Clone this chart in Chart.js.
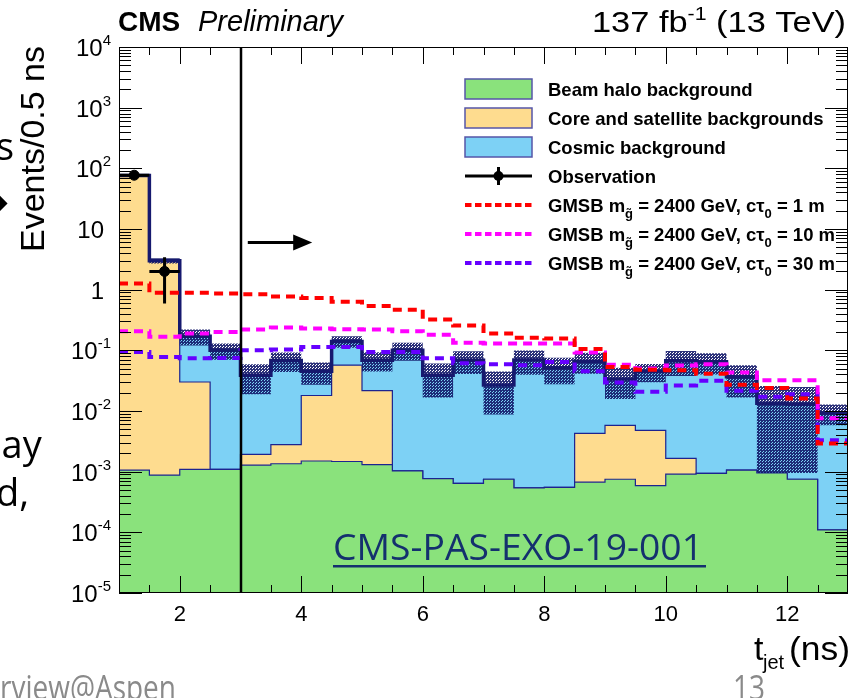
<!DOCTYPE html>
<html>
<head>
<meta charset="utf-8">
<script src="https://cdn.jsdelivr.net/npm/chart.js@4.4.1/dist/chart.umd.min.js"></script>
<style>
  html, body { margin: 0; padding: 0; background: #fff; }
  canvas { display: block; }
</style>
</head>
<body>
<canvas id="tjet" width="854" height="698"></canvas>
<script>
// ---------------- DATA ----------------
// t_jet histogram, 0.5 ns bins from 1 to 13 ns (bin edges)
const binEdges = [1, 1.5, 2, 2.5, 3, 3.5, 4, 4.5, 5, 5.5, 6, 6.5, 7, 7.5, 8, 8.5, 9, 9.5, 10, 10.5, 11, 11.5, 12, 12.5, 13];

// background components (events / 0.5 ns), stacked halo -> core/satellite -> cosmic
const beamHalo = [1.06e-3, 8.8e-4, 1.09e-3, 1.09e-3, 1.28e-3, 1.35e-3, 1.5e-3, 1.47e-3, 1.31e-3, 1.03e-3, 7.7e-4, 6.4e-4,
                  7.5e-4, 5.4e-4, 5.5e-4, 6.7e-4, 7.5e-4, 5.9e-4, 9.1e-4, 9.4e-4, 1.06e-3, 9.5e-4, 7.5e-4, 1.1e-4];
const coreSat = [76, 3.0, 0.029, 0, 6.5e-4, 1.45e-3, 0.0165, 0.0555, 0.0203, 0, 0, 0,
                 0, 0, 0, 3.6e-3, 5.05e-3, 4.2e-3, 7.5e-4, 0, 0, 0, 0, 0];
const cosmic = [0, 0, 0.14, 0.099, 0.037, 0.065, 0.027, 0.083, 0.047, 0.099, 0.038, 0.068,
                0.026, 0.069, 0.051, 0.062, 0.028, 0.040, 0.066, 0.064, 0.0356, 0.0125, 0.0122, 0.0092];
// uncertainty on the total background
const bkgErr = [4, 0.3, 0.05, 0.03, 0.02, 0.024, 0.018, 0.03, 0.024, 0.033, 0.022, 0.028,
                0.018, 0.03, 0.024, 0.025, 0.018, 0.015, 0.03, 0.025, 0.02, 0.0125, 0.012, 0.0035];

// GMSB signal, m_gluino = 2400 GeV
const gmsb1m = [1.26, 0.89, 0.89, 0.865, 0.84, 0.77, 0.73, 0.63, 0.54, 0.466, 0.323, 0.257,
                0.19, 0.161, 0.157, 0.105, 0.053, 0.048, 0.047, 0.041, 0.027, 0.024, 0.016, 0.0029];
const gmsb10m = [0.207, 0.167, 0.19, 0.2, 0.22, 0.238, 0.23, 0.223, 0.22, 0.206, 0.181, 0.133,
                 0.13, 0.13, 0.13, 0.092, 0.058, 0.05, 0.056, 0.059, 0.043, 0.032, 0.032, 0.0076];
const gmsb30m = [0.094, 0.078, 0.074, 0.075, 0.1, 0.103, 0.114, 0.114, 0.094, 0.094, 0.074, 0.061,
                 0.059, 0.057, 0.064, 0.045, 0.0296, 0.0207, 0.0264, 0.0314, 0.0215, 0.0171, 0.0188, 0.0033];

// observed data (bin centre, count, error)
const obsX = [1.25, 1.75];
const obsY = [77, 2];
const obsErr = [8.8, 1.41];

// axes
const xMin = 1, xMax = 13;
const yMin = 1e-5, yMax = 1e4;
const xTickLabels = [2, 4, 6, 8, 10, 12];
const yDecades = [-5, -4, -3, -2, -1, 0, 1, 2, 3, 4];

// selection cut
const cutAt = 3;
const arrowFrom = 3.12, arrowTo = 4.18, arrowLevel = 6;

const legendLabels = ['Beam halo background', 'Core and satellite backgrounds', 'Cosmic background', 'Observation'];
const signalLabels = ['1 m', '10 m', '30 m'];

// ---------------- STYLE ----------------
const HELV = '"Liberation Sans", Arial, sans-serif';
const C_HALO = '#8ae27c';
const C_CORE = '#fedc8f';
const C_COSMIC = '#7dd1f5';
const C_TOTAL = '#16196e';
const C_EDGE = '#1c2390';
const C_SIG = ['#ff0000', '#ff00ff', '#6600ff'];

const canvas = document.getElementById('tjet');
const ctx0 = canvas.getContext('2d');

// dotted hatch for the background uncertainty
function hatchPattern() {
  const pc = document.createElement('canvas');
  pc.width = 3; pc.height = 3;
  const p = pc.getContext('2d');
  p.fillStyle = 'rgba(16, 22, 104, 0.88)';
  p.fillRect(0, 0, 3, 3);
  p.clearRect(1, 1, 1, 1);
  p.clearRect(0, 2, 1, 1);
  return ctx0.createPattern(pc, 'repeat');
}

// step histogram: one point per left edge, last value repeated at the right edge
function histPoints(vals) {
  return binEdges.map((x, i) => ({ x, y: vals[Math.min(i, vals.length - 1)] }));
}

const cumHalo = beamHalo.slice();
const cumCore = beamHalo.map((v, i) => v + coreSat[i]);
const total = cumCore.map((v, i) => v + cosmic[i]);
const bandHi = total.map((v, i) => v + bkgErr[i]);
const bandLo = total.map((v, i) => Math.max(v - bkgErr[i], 2e-5));

function stepLine(vals, extra) {
  return Object.assign({
    data: histPoints(vals),
    stepped: 'before',
    pointRadius: 0,
    borderWidth: 0,
    fill: false
  }, extra);
}

// ---------------- DRAW HELPERS ----------------
function drawParts(ctx, parts, x, y) {
  let cx = x;
  for (const p of parts) {
    ctx.font = p.font;
    ctx.fillText(p.text, cx, y + (p.dy || 0));
    cx += ctx.measureText(p.text).width + (p.gap || 0);
  }
  return cx;
}
function partsWidth(ctx, parts) {
  let w = 0;
  for (const p of parts) { ctx.font = p.font; w += ctx.measureText(p.text).width + (p.gap || 0); }
  return w;
}
function fitText(ctx, text, x, y, width) {
  const w = ctx.measureText(text).width;
  ctx.save();
  ctx.translate(x, y);
  ctx.scale(width / w, 1);
  ctx.fillText(text, 0, 0);
  ctx.restore();
}

// ---------------- PLUGIN: ROOT-style frame, ticks, labels, legend ----------------
const rootDecor = {
  id: 'rootDecor',
  afterDatasetsDraw(chart) {
    const { ctx, chartArea: a, scales: { x, y } } = chart;
    ctx.save();

    // observation error bars
    ctx.strokeStyle = '#000';
    ctx.lineWidth = 3;
    obsX.forEach((ox, i) => {
      const px = x.getPixelForValue(ox);
      const py = y.getPixelForValue(obsY[i]);
      ctx.beginPath();
      ctx.moveTo(x.getPixelForValue(ox - 0.25), py);
      ctx.lineTo(x.getPixelForValue(ox + 0.25), py);
      ctx.moveTo(px, y.getPixelForValue(obsY[i] + obsErr[i]));
      ctx.lineTo(px, y.getPixelForValue(obsY[i] - obsErr[i]));
      ctx.stroke();
    });

    // cut line and arrow
    const cx = Math.round(x.getPixelForValue(cutAt));
    ctx.lineWidth = 2.5;
    ctx.beginPath();
    ctx.moveTo(cx, a.top);
    ctx.lineTo(cx, a.bottom);
    ctx.stroke();

    const ay = y.getPixelForValue(arrowLevel);
    const ax0 = x.getPixelForValue(arrowFrom), ax1 = x.getPixelForValue(arrowTo);
    ctx.lineWidth = 3;
    ctx.beginPath();
    ctx.moveTo(ax0, ay);
    ctx.lineTo(ax1 - 14, ay);
    ctx.stroke();
    ctx.fillStyle = '#000';
    ctx.beginPath();
    ctx.moveTo(ax1, ay);
    ctx.lineTo(ax1 - 19, ay - 8);
    ctx.lineTo(ax1 - 19, ay + 8);
    ctx.closePath();
    ctx.fill();

    // frame
    ctx.lineWidth = 1;
    ctx.strokeStyle = '#000';
    ctx.strokeRect(a.left + 0.5, a.top + 0.5, a.right - a.left - 1, a.bottom - a.top - 1);

    // x ticks (every 0.5 ns, long at labelled values)
    ctx.beginPath();
    for (let t = xMin + 0.5; t < xMax; t += 0.5) {
      const px = Math.round(x.getPixelForValue(t)) + 0.5;
      const len = xTickLabels.includes(t) ? 17 : 8;
      ctx.moveTo(px, a.bottom); ctx.lineTo(px, a.bottom - len);
      ctx.moveTo(px, a.top); ctx.lineTo(px, a.top + len);
    }
    // y ticks (decades long, 2..9 short)
    yDecades.forEach(e => {
      for (let m = 1; m <= 9; m++) {
        const v = m * Math.pow(10, e);
        if (v > yMax) break;
        const py = Math.round(y.getPixelForValue(v)) + 0.5;
        const len = m === 1 ? 23 : 12;
        ctx.moveTo(a.left, py); ctx.lineTo(a.left + len, py);
        ctx.moveTo(a.right, py); ctx.lineTo(a.right - len, py);
      }
    });
    ctx.stroke();

    // x tick labels
    ctx.fillStyle = '#000';
    ctx.font = '22px ' + HELV;
    ctx.textAlign = 'center';
    ctx.textBaseline = 'alphabetic';
    xTickLabels.forEach(t => ctx.fillText(String(t), x.getPixelForValue(t), a.bottom + 28));

    // y tick labels: 10^n
    ctx.textAlign = 'left';
    yDecades.forEach(e => {
      const py = y.getPixelForValue(Math.pow(10, e));
      let parts;
      if (e === 0) parts = [{ text: '1', font: '24px ' + HELV }];
      else if (e === 1) parts = [{ text: '10', font: '24px ' + HELV }];
      else parts = [{ text: '10', font: '24px ' + HELV }, { text: String(e), font: '15px ' + HELV, dy: -11 }];
      const right = parts.length > 1 ? 111 : 104;
      drawParts(ctx, parts, right - partsWidth(ctx, parts), py + 9);
    });

    // axis titles
    ctx.save();
    ctx.translate(44, a.top - 1);
    ctx.rotate(-Math.PI / 2);
    ctx.textAlign = 'right';
    ctx.font = '34px ' + HELV;
    ctx.fillText('Events/0.5 ns', 0, 0);
    ctx.restore();

    ctx.textAlign = 'left';
    ctx.font = '34px ' + HELV;
    ctx.fillText('t', 754, 660);
    ctx.font = '20px ' + HELV;
    ctx.fillText('jet', 763, 669);
    ctx.font = '34px ' + HELV;
    fitText(ctx, '(ns)', 789, 660, 61);

    // header
    ctx.font = 'bold 28px ' + HELV;
    ctx.fillText('CMS', 118, 31);
    ctx.font = 'italic 29px ' + HELV;
    ctx.fillText('Preliminary', 198, 31);
    const lumi = [
      { text: '137 fb', font: '29px ' + HELV },
      { text: '-1', font: '18px ' + HELV, dy: -12 },
      { text: ' (13 TeV)', font: '29px ' + HELV }
    ];
    const lw = partsWidth(ctx, lumi);
    ctx.save();
    ctx.translate(592, 32);
    ctx.scale(254 / lw, 1);
    drawParts(ctx, lumi, 0, 0);
    ctx.restore();

    // legend
    const lx0 = 465, lx1 = 532, tx = 548;
    const rowY = [89, 118, 147, 176, 205, 234, 263];
    const fills = [C_HALO, C_CORE, C_COSMIC];
    for (let i = 0; i < 3; i++) {
      ctx.fillStyle = fills[i];
      ctx.fillRect(lx0, rowY[i] - 10, lx1 - lx0, 20);
      ctx.strokeStyle = '#5656a8';
      ctx.lineWidth = 1.5;
      ctx.strokeRect(lx0, rowY[i] - 10, lx1 - lx0, 20);
    }
    ctx.strokeStyle = '#000';
    ctx.lineWidth = 3;
    ctx.beginPath();
    ctx.moveTo(lx0, rowY[3]); ctx.lineTo(lx1, rowY[3]);
    ctx.moveTo((lx0 + lx1) / 2, rowY[3] - 9); ctx.lineTo((lx0 + lx1) / 2, rowY[3] + 9);
    ctx.stroke();
    ctx.fillStyle = '#000';
    ctx.beginPath();
    ctx.arc((lx0 + lx1) / 2, rowY[3], 5, 0, Math.PI * 2);
    ctx.fill();
    for (let i = 0; i < 3; i++) {
      ctx.strokeStyle = C_SIG[i];
      ctx.lineWidth = 4;
      ctx.setLineDash([6.5, 3.5]);
      ctx.beginPath();
      ctx.moveTo(lx0, rowY[4 + i]); ctx.lineTo(lx1, rowY[4 + i]);
      ctx.stroke();
    }
    ctx.setLineDash([]);

    ctx.fillStyle = '#000';
    const LB = 'bold 18.5px ' + HELV, LS = 'bold 13px ' + HELV;
    legendLabels.forEach((t, i) => { ctx.font = LB; ctx.fillText(t, tx, rowY[i] + 7); });
    signalLabels.forEach((t, i) => {
      drawParts(ctx, [
        { text: 'GMSB m', font: LB },
        { text: 'g\u0303', font: LS, dy: 6 },
        { text: ' = 2400 GeV, c\u03c4', font: LB },
        { text: '0', font: LS, dy: 6 },
        { text: ' = ' + t, font: LB }
      ], tx, rowY[4 + i] + 7);
    });

    // reference link
    ctx.fillStyle = '#14306e';
    ctx.font = '36px "Open Sans", sans-serif';
    fitText(ctx, 'CMS-PAS-EXO-19-001', 333, 560, 370);
    ctx.fillRect(333, 565, 373, 2.5);

    // slide text around the figure
    ctx.fillStyle = '#000';
    ctx.font = '38px "Open Sans", sans-serif';
    ctx.fillText('s', -4, 160);
    ctx.fillText('lay', -8, 458);
    ctx.fillText('d,', -4, 506);
    ctx.font = 'bold 40px "DejaVu Sans", sans-serif';
    ctx.fillText('\u2794', -24, 216);
    ctx.fillStyle = '#8a8a8a';
    ctx.font = '34px "Open Sans", sans-serif';
    fitText(ctx, 'rview@Aspen', 0, 700, 176);
    fitText(ctx, '13', 733, 700, 32);

    ctx.restore();
  }
};

// ---------------- CHART ----------------
const hatch = hatchPattern();

new Chart(canvas, {
  type: 'line',
  data: {
    datasets: [
      { // 0 observation
        data: obsX.map((x, i) => ({ x, y: obsY[i] })),
        showLine: false, pointRadius: 5, pointBackgroundColor: '#000', pointBorderColor: '#000', order: 0
      },
      stepLine(gmsb1m, { borderColor: C_SIG[0], borderWidth: 4, borderDash: [9, 6], order: 1 }),
      stepLine(gmsb10m, { borderColor: C_SIG[1], borderWidth: 4, borderDash: [9, 6], order: 1 }),
      stepLine(gmsb30m, { borderColor: C_SIG[2], borderWidth: 4, borderDash: [9, 6], order: 1 }),
      stepLine(total, { borderColor: C_TOTAL, borderWidth: 3.5, order: 2 }),
      stepLine(bandHi, { fill: '+1', backgroundColor: hatch, order: 3 }),
      stepLine(bandLo, { order: 3 }),
      stepLine(cumHalo, { fill: { value: yMin }, backgroundColor: C_HALO, borderColor: C_EDGE, borderWidth: 1.2, order: 4 }),
      stepLine(cumCore, { fill: { value: yMin }, backgroundColor: C_CORE, borderColor: C_EDGE, borderWidth: 1.2, order: 5 }),
      stepLine(total, { fill: { value: yMin }, backgroundColor: C_COSMIC, borderColor: C_EDGE, borderWidth: 1.2, order: 6 })
    ]
  },
  options: {
    responsive: false,
    animation: false,
    layout: { padding: { left: 119, top: 47, right: 3, bottom: 105 } },
    plugins: { legend: { display: false }, tooltip: { enabled: false } },
    scales: {
      x: { type: 'linear', min: xMin, max: xMax, display: false },
      y: { type: 'logarithmic', min: yMin, max: yMax, display: false }
    }
  },
  plugins: [rootDecor]
});
</script>
</body>
</html>
